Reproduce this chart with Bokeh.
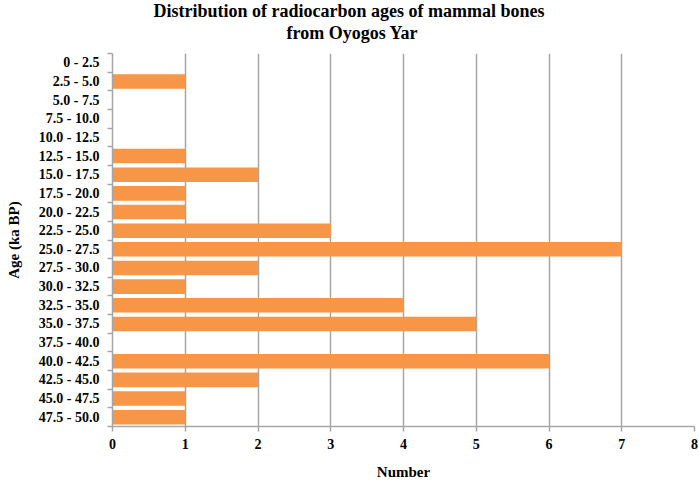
from bokeh.plotting import figure
from bokeh.models import Range1d, FixedTicker, Title
from bokeh.embed import file_html
from bokeh.resources import INLINE

categories = ["0 - 2.5", "2.5 - 5.0", "5.0 - 7.5", "7.5 - 10.0", "10.0 - 12.5",
              "12.5 - 15.0", "15.0 - 17.5", "17.5 - 20.0", "20.0 - 22.5", "22.5 - 25.0",
              "25.0 - 27.5", "27.5 - 30.0", "30.0 - 32.5", "32.5 - 35.0", "35.0 - 37.5",
              "37.5 - 40.0", "40.0 - 42.5", "42.5 - 45.0", "45.0 - 47.5", "47.5 - 50.0"]
counts = [0, 1, 0, 0, 0, 1, 2, 1, 1, 3, 7, 2, 1, 4, 5, 0, 6, 2, 1, 1]
x_ticks = [0, 1, 2, 3, 4, 5, 6, 7, 8]
title_lines = ["Distribution of radiocarbon ages of mammal bones", "from Oyogos Yar"]
x_title = "Number"
y_title = "Age (ka BP)"

FONT = "Liberation Serif"
n = len(categories)
centers = [i + 0.5 for i in range(n)]
bounds = [float(i) for i in range(n + 1)]

p = figure(width=699, height=482, output_backend="svg", toolbar_location=None,
           x_range=Range1d(0, 8), y_range=Range1d(n, 0),
           min_border_left=112, min_border_right=5, min_border_top=53, min_border_bottom=53)

p.hbar(y=centers, right=counts, left=0, height=0.78, color="#F79646", line_color=None)

# spacer panel between the frame and the two title lines (innermost first)
p.add_layout(Title(text=" ", standoff=6, text_font_size="1px", text_line_height=1.0,
                   text_color="white"), "above")
p.add_layout(Title(text=title_lines[1], align="left", offset=174, standoff=0,
                   text_line_height=0.9, vertical_align="top",
                   text_font=FONT, text_font_size="18px", text_font_style="bold",
                   text_color="black"), "above")
p.add_layout(Title(text=title_lines[0], align="left", offset=41, standoff=0,
                   text_line_height=0.9, vertical_align="top",
                   text_font=FONT, text_font_size="18px", text_font_style="bold",
                   text_color="black"), "above")

p.outline_line_color = None
p.background_fill_color = "white"
p.border_fill_color = "white"

p.ygrid.visible = False
p.xgrid.ticker = FixedTicker(ticks=x_ticks)
p.xgrid.grid_line_color = "#A6A6A6"
p.xgrid.grid_line_width = 1.5

xa = p.xaxis[0]
xa.ticker = FixedTicker(ticks=x_ticks)
xa.axis_label = x_title
xa.axis_label_text_font = FONT
xa.axis_label_text_font_size = "15px"
xa.axis_label_text_font_style = "bold"
xa.axis_label_text_color = "black"
xa.axis_label_text_line_height = 0.8
xa.axis_label_standoff = 12
xa.major_label_text_font = FONT
xa.major_label_text_font_size = "14px"
xa.major_label_text_font_style = "bold"
xa.major_label_text_color = "black"
xa.axis_line_color = "#A6A6A6"
xa.axis_line_width = 1.5
xa.major_tick_line_color = "#A6A6A6"
xa.major_tick_line_width = 1.5
xa.major_tick_in = 0
xa.major_tick_out = 5
xa.minor_tick_line_color = None
xa.major_label_standoff = 7

ya = p.yaxis[0]
ya.ticker = FixedTicker(ticks=centers, minor_ticks=bounds)
ya.major_label_overrides = {c: lab for c, lab in zip(centers, categories)}
ya.axis_label = y_title
ya.axis_label_text_font = FONT
ya.axis_label_text_font_size = "15px"
ya.axis_label_text_font_style = "bold"
ya.axis_label_text_color = "black"
ya.axis_label_standoff = 14
ya.major_label_text_font = FONT
ya.major_label_text_font_size = "14px"
ya.major_label_text_font_style = "bold"
ya.major_label_text_color = "black"
ya.axis_line_color = "#A6A6A6"
ya.axis_line_width = 1.5
ya.major_tick_in = 0
ya.major_tick_out = 0
ya.minor_tick_in = 0
ya.minor_tick_out = 5
ya.minor_tick_line_color = "#A6A6A6"
ya.minor_tick_line_width = 1.5
ya.major_label_standoff = 8

open("out.html", "w").write(file_html(p, INLINE))
